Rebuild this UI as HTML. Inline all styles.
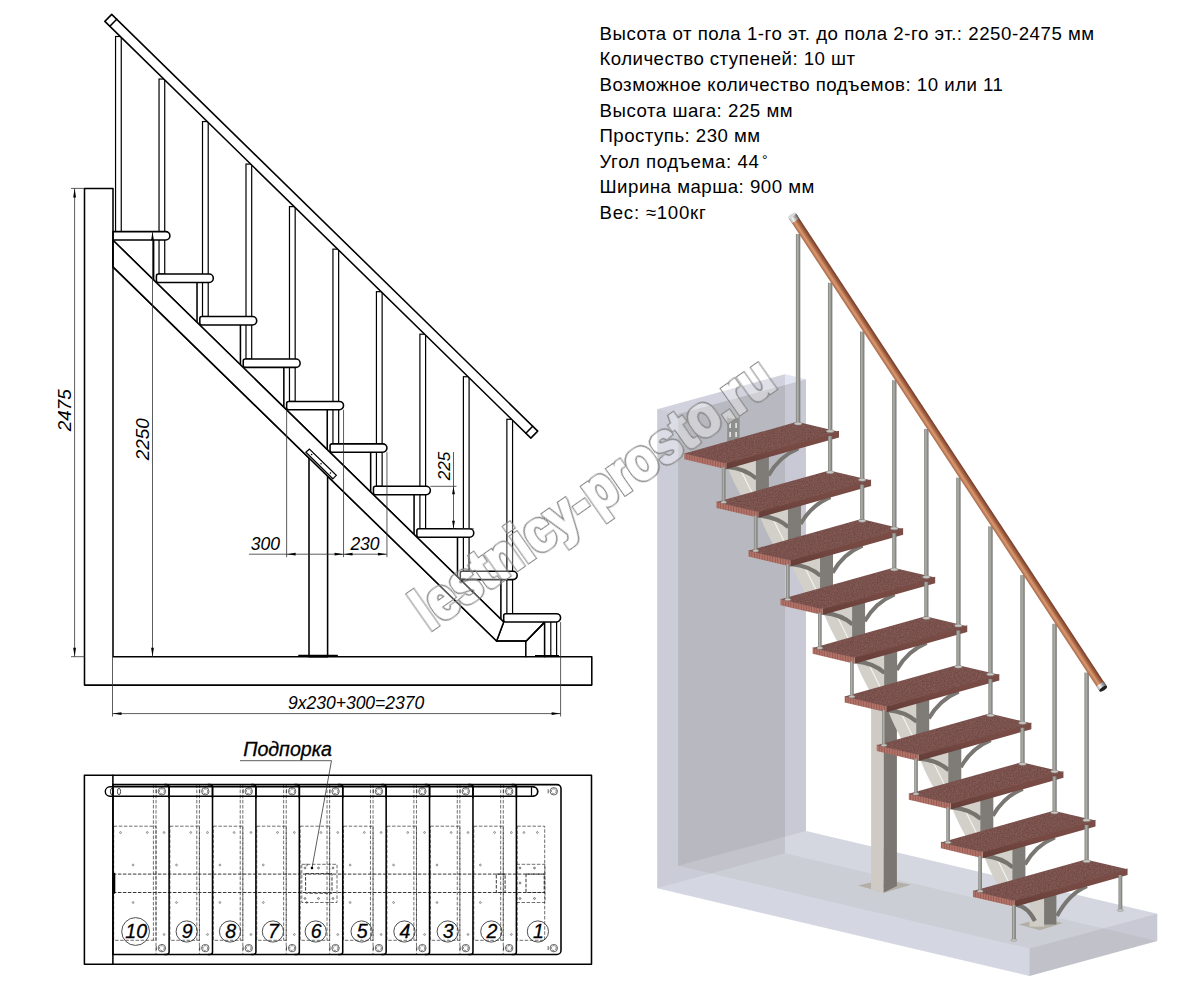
<!DOCTYPE html>
<html lang="ru"><head><meta charset="utf-8"><title>Лестница</title>
<style>
html,body{margin:0;padding:0;background:#fff;}
body{width:1191px;height:993px;overflow:hidden;}
svg{display:block;}
.k{fill:none;stroke:#000;stroke-width:1.55;stroke-linejoin:round;stroke-linecap:round;}
.kw{fill:#fff;stroke:#000;stroke-width:1.55;stroke-linejoin:round;}
.m{fill:none;stroke:#000;stroke-width:1.2;}
.mw{fill:#fff;stroke:#000;stroke-width:1.2;}
.t{fill:none;stroke:#333;stroke-width:0.8;}
.d{fill:none;stroke:#222;stroke-width:0.65;stroke-dasharray:3.5 1.6;}
.d2{fill:none;stroke:#222;stroke-width:0.9;stroke-dasharray:3.5 1.5;}
.ar{fill:#000;stroke:none;}
.dim{font-family:"Liberation Sans", sans-serif;font-style:italic;fill:#000;}
.spec{font-family:"Liberation Sans", sans-serif;fill:#000;}
</style></head><body>
<svg width="1191" height="993" viewBox="0 0 1191 993">
<g id="elev">
<rect class="mw" x="115.55" y="36.5" width="5.7" height="195.1" />
<rect class="mw" x="159.03" y="79.03" width="5.7" height="195.02" />
<rect class="mw" x="202.51" y="121.56" width="5.7" height="194.94" />
<rect class="mw" x="245.99" y="164.09" width="5.7" height="194.86" />
<rect class="mw" x="289.47" y="206.62" width="5.7" height="194.78" />
<rect class="mw" x="332.95" y="249.15" width="5.7" height="194.7" />
<rect class="mw" x="376.43" y="291.68" width="5.7" height="194.62" />
<rect class="mw" x="419.91" y="334.21" width="5.7" height="194.54" />
<rect class="mw" x="463.39" y="376.74" width="5.7" height="194.46" />
<rect class="mw" x="506.87" y="419.27" width="5.7" height="194.38" />
<line class="k" x1="153.61" y1="240" x2="153.61" y2="282.45" />
<line class="k" x1="197.02" y1="282.45" x2="197.02" y2="324.9" />
<line class="k" x1="240.43" y1="324.9" x2="240.43" y2="367.35" />
<line class="k" x1="283.84" y1="367.35" x2="283.84" y2="409.8" />
<line class="k" x1="327.25" y1="409.8" x2="327.25" y2="452.25" />
<line class="k" x1="370.66" y1="452.25" x2="370.66" y2="494.7" />
<line class="k" x1="414.07" y1="494.7" x2="414.07" y2="537.15" />
<line class="k" x1="457.48" y1="537.15" x2="457.48" y2="579.6" />
<line class="k" x1="500.89" y1="579.6" x2="500.89" y2="622.05" />
<polygon class="kw" points="113,240.3 503.69,622.05 496.6,641 113,266.9" />
<polyline class="k" points="496.6,641 526.3,641 544,622.9" />
<line class="k" x1="525.8" y1="641" x2="525.8" y2="656.7" />
<rect class="kw" x="309" y="455" width="18.6" height="201.7" />
<polygon class="kw" points="113,240.3 503.69,622.05 496.6,641 113,266.9" />
<polyline class="k" points="496.6,641 526.3,641 544,622.9" />
<line class="k" x1="298.9" y1="655.6" x2="337.2" y2="655.6" />
<polygon class="mw" points="305.9,452.3 309.4,449 336.3,475.3 332.8,478.8" />
<circle cx="311.63" cy="454.56" r="0.8" fill="#000"/>
<circle cx="321.05" cy="463.8" r="0.8" fill="#000"/>
<circle cx="330.47" cy="473.04" r="0.8" fill="#000"/>
<line class="k" x1="544.6" y1="622.05" x2="544.6" y2="656.7" />
<line class="m" x1="550.8" y1="622.05" x2="550.8" y2="656.7" />
<line class="m" x1="556.6" y1="622.05" x2="556.6" y2="656.7" />
<line class="m" x1="535" y1="655.6" x2="559" y2="655.6" />
<path class="kw" d="M113 231.6 H165.7 a4.2 4.2 0 0 1 0 8.4 H113 Z"/>
<path class="kw" d="M158.41 274.05 H209.11 a4.2 4.2 0 0 1 0 8.4 H158.41 a2 2 0 0 1 -2 -2 V276.05 a2 2 0 0 1 2 -2 Z"/>
<path class="kw" d="M201.82 316.5 H252.52 a4.2 4.2 0 0 1 0 8.4 H201.82 a2 2 0 0 1 -2 -2 V318.5 a2 2 0 0 1 2 -2 Z"/>
<path class="kw" d="M245.23 358.95 H295.93 a4.2 4.2 0 0 1 0 8.4 H245.23 a2 2 0 0 1 -2 -2 V360.95 a2 2 0 0 1 2 -2 Z"/>
<path class="kw" d="M288.64 401.4 H339.34 a4.2 4.2 0 0 1 0 8.4 H288.64 a2 2 0 0 1 -2 -2 V403.4 a2 2 0 0 1 2 -2 Z"/>
<path class="kw" d="M332.05 443.85 H382.75 a4.2 4.2 0 0 1 0 8.4 H332.05 a2 2 0 0 1 -2 -2 V445.85 a2 2 0 0 1 2 -2 Z"/>
<path class="kw" d="M375.46 486.3 H426.16 a4.2 4.2 0 0 1 0 8.4 H375.46 a2 2 0 0 1 -2 -2 V488.3 a2 2 0 0 1 2 -2 Z"/>
<path class="kw" d="M418.87 528.75 H469.57 a4.2 4.2 0 0 1 0 8.4 H418.87 a2 2 0 0 1 -2 -2 V530.75 a2 2 0 0 1 2 -2 Z"/>
<path class="kw" d="M462.28 571.2 H512.98 a4.2 4.2 0 0 1 0 8.4 H462.28 a2 2 0 0 1 -2 -2 V573.2 a2 2 0 0 1 2 -2 Z"/>
<path class="kw" d="M505.69 613.65 H556.39 a4.2 4.2 0 0 1 0 8.4 H505.69 a2 2 0 0 1 -2 -2 V615.65 a2 2 0 0 1 2 -2 Z"/>
<polyline class="k" points="113,656.7 113,188.4 84.5,188.4 84.5,685.1 591.8,685.1 591.8,656.7 113,656.7" />
<polygon class="kw" points="111.7,14.4 537.7,431.1 530.85,438.11 104.85,21.41" />
<line class="k" x1="116.7" y1="19.29" x2="109.85" y2="26.3" />
<line class="k" x1="532.7" y1="426.21" x2="525.84" y2="433.21" />
<line class="t" x1="71" y1="188.4" x2="84.5" y2="188.4" />
<line class="t" x1="71" y1="656.7" x2="84.5" y2="656.7" />
<line class="t" x1="74.6" y1="188.4" x2="74.6" y2="656.7" />
<polygon class="ar" points="74.6,188.4 76,197.4 73.2,197.4" />
<polygon class="ar" points="74.6,656.7 73.2,647.7 76,647.7" />
<text class="dim" x="71.3" y="410.3" font-size="18.8" text-anchor="middle" transform="rotate(-90 71.3 410.3)" >2475</text>
<line class="t" x1="152.5" y1="231.6" x2="152.5" y2="656.7" />
<polygon class="ar" points="152.5,231.6 153.9,240.6 151.1,240.6" />
<polygon class="ar" points="152.5,656.7 151.1,647.7 153.9,647.7" />
<text class="dim" x="149.2" y="439.3" font-size="18.8" text-anchor="middle" transform="rotate(-90 149.2 439.3)" >2250</text>
<line class="t" x1="430.36" y1="486.3" x2="456.5" y2="486.3" />
<line class="t" x1="473.77" y1="528.75" x2="456.5" y2="528.75" />
<line class="t" x1="453.5" y1="452" x2="453.5" y2="528.75" />
<polygon class="ar" points="453.5,486.3 454.9,494.3 452.1,494.3" />
<polygon class="ar" points="453.5,528.75 452.1,520.75 454.9,520.75" />
<text class="dim" x="450.3" y="466" font-size="17" text-anchor="middle" transform="rotate(-90 450.3 466)" >225</text>
<line class="t" x1="286.64" y1="409.8" x2="286.64" y2="557.2" />
<line class="t" x1="343.54" y1="409.8" x2="343.54" y2="557.2" />
<line class="t" x1="386.95" y1="452.25" x2="386.95" y2="557.2" />
<line class="t" x1="249" y1="554.2" x2="386.95" y2="554.2" />
<polygon class="ar" points="286.64,554.2 295.64,552.8 295.64,555.6" />
<polygon class="ar" points="343.54,554.2 334.54,555.6 334.54,552.8" />
<polygon class="ar" points="343.54,554.2 352.54,552.8 352.54,555.6" />
<polygon class="ar" points="386.95,554.2 377.95,555.6 377.95,552.8" />
<text class="dim" x="250.8" y="550.4" font-size="17.5" text-anchor="start" >300</text>
<text class="dim" x="350.4" y="550.4" font-size="17.5" text-anchor="start" >230</text>
<line class="t" x1="112.5" y1="656.7" x2="112.5" y2="716.5" />
<line class="t" x1="560.6" y1="622.05" x2="560.6" y2="716.5" />
<line class="t" x1="112.5" y1="713.6" x2="560.6" y2="713.6" />
<polygon class="ar" points="112.5,713.6 121.5,712.2 121.5,715" />
<polygon class="ar" points="560.6,713.6 551.6,715 551.6,712.2" />
<text class="dim" x="288" y="709" font-size="17.5" text-anchor="start" >9x230+300=2370</text>
</g>
<g id="plan">
<line class="d2" x1="112.9" y1="874.1" x2="545" y2="874.1" />
<line class="d2" x1="112.9" y1="892.5" x2="545" y2="892.5" />
<line class="d" x1="153.4" y1="784.6" x2="153.4" y2="940.3" />
<line class="d" x1="156" y1="784.6" x2="156" y2="954.4" />
<rect class="d" x="113.7" y="826.2" width="42.3" height="114.1" />
<circle cx="147.3" cy="832.5" r="0.9" fill="none" stroke="#333" stroke-width="0.5"/>
<circle cx="164.1" cy="832.5" r="0.9" fill="none" stroke="#333" stroke-width="0.5"/>
<circle cx="133.1" cy="865" r="0.9" fill="none" stroke="#333" stroke-width="0.5"/>
<circle cx="133.1" cy="902.5" r="0.9" fill="none" stroke="#333" stroke-width="0.5"/>
<circle cx="164.1" cy="934.5" r="0.9" fill="none" stroke="#333" stroke-width="0.5"/>
<circle cx="120.5" cy="832.5" r="0.9" fill="none" stroke="#333" stroke-width="0.5"/>
<circle cx="161.9" cy="791.3" r="3.7" fill="none" stroke="#222" stroke-width="0.7"/>
<circle cx="161.9" cy="791.3" r="2.4" fill="none" stroke="#222" stroke-width="0.6" stroke-dasharray="2 1"/>
<line class="t" x1="156.3" y1="789.3" x2="156.3" y2="793.3" />
<circle cx="161.9" cy="948.1" r="3.7" fill="none" stroke="#222" stroke-width="0.7"/>
<circle cx="161.9" cy="948.1" r="2.4" fill="none" stroke="#222" stroke-width="0.6" stroke-dasharray="2 1"/>
<line class="t" x1="156.3" y1="946.1" x2="156.3" y2="950.1" />
<line class="d" x1="196.81" y1="784.6" x2="196.81" y2="940.3" />
<line class="d" x1="199.41" y1="784.6" x2="199.41" y2="954.4" />
<rect class="d" x="169.9" y="826.2" width="29.51" height="114.1" />
<circle cx="190.71" cy="832.5" r="0.9" fill="none" stroke="#333" stroke-width="0.5"/>
<circle cx="207.51" cy="832.5" r="0.9" fill="none" stroke="#333" stroke-width="0.5"/>
<circle cx="176.51" cy="865" r="0.9" fill="none" stroke="#333" stroke-width="0.5"/>
<circle cx="176.51" cy="902.5" r="0.9" fill="none" stroke="#333" stroke-width="0.5"/>
<circle cx="207.51" cy="934.5" r="0.9" fill="none" stroke="#333" stroke-width="0.5"/>
<circle cx="205.31" cy="791.3" r="3.7" fill="none" stroke="#222" stroke-width="0.7"/>
<circle cx="205.31" cy="791.3" r="2.4" fill="none" stroke="#222" stroke-width="0.6" stroke-dasharray="2 1"/>
<line class="t" x1="199.71" y1="789.3" x2="199.71" y2="793.3" />
<circle cx="205.31" cy="948.1" r="3.7" fill="none" stroke="#222" stroke-width="0.7"/>
<circle cx="205.31" cy="948.1" r="2.4" fill="none" stroke="#222" stroke-width="0.6" stroke-dasharray="2 1"/>
<line class="t" x1="199.71" y1="946.1" x2="199.71" y2="950.1" />
<line class="d" x1="240.22" y1="784.6" x2="240.22" y2="940.3" />
<line class="d" x1="242.82" y1="784.6" x2="242.82" y2="954.4" />
<rect class="d" x="213.31" y="826.2" width="29.51" height="114.1" />
<circle cx="234.12" cy="832.5" r="0.9" fill="none" stroke="#333" stroke-width="0.5"/>
<circle cx="250.92" cy="832.5" r="0.9" fill="none" stroke="#333" stroke-width="0.5"/>
<circle cx="219.92" cy="865" r="0.9" fill="none" stroke="#333" stroke-width="0.5"/>
<circle cx="219.92" cy="902.5" r="0.9" fill="none" stroke="#333" stroke-width="0.5"/>
<circle cx="250.92" cy="934.5" r="0.9" fill="none" stroke="#333" stroke-width="0.5"/>
<circle cx="248.72" cy="791.3" r="3.7" fill="none" stroke="#222" stroke-width="0.7"/>
<circle cx="248.72" cy="791.3" r="2.4" fill="none" stroke="#222" stroke-width="0.6" stroke-dasharray="2 1"/>
<line class="t" x1="243.12" y1="789.3" x2="243.12" y2="793.3" />
<circle cx="248.72" cy="948.1" r="3.7" fill="none" stroke="#222" stroke-width="0.7"/>
<circle cx="248.72" cy="948.1" r="2.4" fill="none" stroke="#222" stroke-width="0.6" stroke-dasharray="2 1"/>
<line class="t" x1="243.12" y1="946.1" x2="243.12" y2="950.1" />
<line class="d" x1="283.63" y1="784.6" x2="283.63" y2="940.3" />
<line class="d" x1="286.23" y1="784.6" x2="286.23" y2="954.4" />
<rect class="d" x="256.72" y="826.2" width="29.51" height="114.1" />
<circle cx="277.53" cy="832.5" r="0.9" fill="none" stroke="#333" stroke-width="0.5"/>
<circle cx="294.33" cy="832.5" r="0.9" fill="none" stroke="#333" stroke-width="0.5"/>
<circle cx="263.33" cy="865" r="0.9" fill="none" stroke="#333" stroke-width="0.5"/>
<circle cx="263.33" cy="902.5" r="0.9" fill="none" stroke="#333" stroke-width="0.5"/>
<circle cx="294.33" cy="934.5" r="0.9" fill="none" stroke="#333" stroke-width="0.5"/>
<circle cx="292.13" cy="791.3" r="3.7" fill="none" stroke="#222" stroke-width="0.7"/>
<circle cx="292.13" cy="791.3" r="2.4" fill="none" stroke="#222" stroke-width="0.6" stroke-dasharray="2 1"/>
<line class="t" x1="286.53" y1="789.3" x2="286.53" y2="793.3" />
<circle cx="292.13" cy="948.1" r="3.7" fill="none" stroke="#222" stroke-width="0.7"/>
<circle cx="292.13" cy="948.1" r="2.4" fill="none" stroke="#222" stroke-width="0.6" stroke-dasharray="2 1"/>
<line class="t" x1="286.53" y1="946.1" x2="286.53" y2="950.1" />
<line class="d" x1="327.04" y1="784.6" x2="327.04" y2="940.3" />
<line class="d" x1="329.64" y1="784.6" x2="329.64" y2="954.4" />
<rect class="d" x="300.13" y="826.2" width="29.51" height="114.1" />
<circle cx="320.94" cy="832.5" r="0.9" fill="none" stroke="#333" stroke-width="0.5"/>
<circle cx="337.74" cy="832.5" r="0.9" fill="none" stroke="#333" stroke-width="0.5"/>
<circle cx="306.74" cy="865" r="0.9" fill="none" stroke="#333" stroke-width="0.5"/>
<circle cx="306.74" cy="902.5" r="0.9" fill="none" stroke="#333" stroke-width="0.5"/>
<circle cx="337.74" cy="934.5" r="0.9" fill="none" stroke="#333" stroke-width="0.5"/>
<circle cx="335.54" cy="791.3" r="3.7" fill="none" stroke="#222" stroke-width="0.7"/>
<circle cx="335.54" cy="791.3" r="2.4" fill="none" stroke="#222" stroke-width="0.6" stroke-dasharray="2 1"/>
<line class="t" x1="329.94" y1="789.3" x2="329.94" y2="793.3" />
<circle cx="335.54" cy="948.1" r="3.7" fill="none" stroke="#222" stroke-width="0.7"/>
<circle cx="335.54" cy="948.1" r="2.4" fill="none" stroke="#222" stroke-width="0.6" stroke-dasharray="2 1"/>
<line class="t" x1="329.94" y1="946.1" x2="329.94" y2="950.1" />
<line class="d" x1="370.45" y1="784.6" x2="370.45" y2="940.3" />
<line class="d" x1="373.05" y1="784.6" x2="373.05" y2="954.4" />
<rect class="d" x="343.54" y="826.2" width="29.51" height="114.1" />
<circle cx="364.35" cy="832.5" r="0.9" fill="none" stroke="#333" stroke-width="0.5"/>
<circle cx="381.15" cy="832.5" r="0.9" fill="none" stroke="#333" stroke-width="0.5"/>
<circle cx="350.15" cy="865" r="0.9" fill="none" stroke="#333" stroke-width="0.5"/>
<circle cx="350.15" cy="902.5" r="0.9" fill="none" stroke="#333" stroke-width="0.5"/>
<circle cx="381.15" cy="934.5" r="0.9" fill="none" stroke="#333" stroke-width="0.5"/>
<circle cx="378.95" cy="791.3" r="3.7" fill="none" stroke="#222" stroke-width="0.7"/>
<circle cx="378.95" cy="791.3" r="2.4" fill="none" stroke="#222" stroke-width="0.6" stroke-dasharray="2 1"/>
<line class="t" x1="373.35" y1="789.3" x2="373.35" y2="793.3" />
<circle cx="378.95" cy="948.1" r="3.7" fill="none" stroke="#222" stroke-width="0.7"/>
<circle cx="378.95" cy="948.1" r="2.4" fill="none" stroke="#222" stroke-width="0.6" stroke-dasharray="2 1"/>
<line class="t" x1="373.35" y1="946.1" x2="373.35" y2="950.1" />
<line class="d" x1="413.86" y1="784.6" x2="413.86" y2="940.3" />
<line class="d" x1="416.46" y1="784.6" x2="416.46" y2="954.4" />
<rect class="d" x="386.95" y="826.2" width="29.51" height="114.1" />
<circle cx="407.76" cy="832.5" r="0.9" fill="none" stroke="#333" stroke-width="0.5"/>
<circle cx="424.56" cy="832.5" r="0.9" fill="none" stroke="#333" stroke-width="0.5"/>
<circle cx="393.56" cy="865" r="0.9" fill="none" stroke="#333" stroke-width="0.5"/>
<circle cx="393.56" cy="902.5" r="0.9" fill="none" stroke="#333" stroke-width="0.5"/>
<circle cx="424.56" cy="934.5" r="0.9" fill="none" stroke="#333" stroke-width="0.5"/>
<circle cx="422.36" cy="791.3" r="3.7" fill="none" stroke="#222" stroke-width="0.7"/>
<circle cx="422.36" cy="791.3" r="2.4" fill="none" stroke="#222" stroke-width="0.6" stroke-dasharray="2 1"/>
<line class="t" x1="416.76" y1="789.3" x2="416.76" y2="793.3" />
<circle cx="422.36" cy="948.1" r="3.7" fill="none" stroke="#222" stroke-width="0.7"/>
<circle cx="422.36" cy="948.1" r="2.4" fill="none" stroke="#222" stroke-width="0.6" stroke-dasharray="2 1"/>
<line class="t" x1="416.76" y1="946.1" x2="416.76" y2="950.1" />
<line class="d" x1="457.27" y1="784.6" x2="457.27" y2="940.3" />
<line class="d" x1="459.87" y1="784.6" x2="459.87" y2="954.4" />
<rect class="d" x="430.36" y="826.2" width="29.51" height="114.1" />
<circle cx="451.17" cy="832.5" r="0.9" fill="none" stroke="#333" stroke-width="0.5"/>
<circle cx="467.97" cy="832.5" r="0.9" fill="none" stroke="#333" stroke-width="0.5"/>
<circle cx="436.97" cy="865" r="0.9" fill="none" stroke="#333" stroke-width="0.5"/>
<circle cx="436.97" cy="902.5" r="0.9" fill="none" stroke="#333" stroke-width="0.5"/>
<circle cx="467.97" cy="934.5" r="0.9" fill="none" stroke="#333" stroke-width="0.5"/>
<circle cx="465.77" cy="791.3" r="3.7" fill="none" stroke="#222" stroke-width="0.7"/>
<circle cx="465.77" cy="791.3" r="2.4" fill="none" stroke="#222" stroke-width="0.6" stroke-dasharray="2 1"/>
<line class="t" x1="460.17" y1="789.3" x2="460.17" y2="793.3" />
<circle cx="465.77" cy="948.1" r="3.7" fill="none" stroke="#222" stroke-width="0.7"/>
<circle cx="465.77" cy="948.1" r="2.4" fill="none" stroke="#222" stroke-width="0.6" stroke-dasharray="2 1"/>
<line class="t" x1="460.17" y1="946.1" x2="460.17" y2="950.1" />
<line class="d" x1="500.68" y1="784.6" x2="500.68" y2="940.3" />
<line class="d" x1="503.28" y1="784.6" x2="503.28" y2="954.4" />
<rect class="d" x="473.77" y="826.2" width="29.51" height="114.1" />
<circle cx="494.58" cy="832.5" r="0.9" fill="none" stroke="#333" stroke-width="0.5"/>
<circle cx="511.38" cy="832.5" r="0.9" fill="none" stroke="#333" stroke-width="0.5"/>
<circle cx="480.38" cy="865" r="0.9" fill="none" stroke="#333" stroke-width="0.5"/>
<circle cx="480.38" cy="902.5" r="0.9" fill="none" stroke="#333" stroke-width="0.5"/>
<circle cx="511.38" cy="934.5" r="0.9" fill="none" stroke="#333" stroke-width="0.5"/>
<circle cx="509.18" cy="791.3" r="3.7" fill="none" stroke="#222" stroke-width="0.7"/>
<circle cx="509.18" cy="791.3" r="2.4" fill="none" stroke="#222" stroke-width="0.6" stroke-dasharray="2 1"/>
<line class="t" x1="503.58" y1="789.3" x2="503.58" y2="793.3" />
<circle cx="509.18" cy="948.1" r="3.7" fill="none" stroke="#222" stroke-width="0.7"/>
<circle cx="509.18" cy="948.1" r="2.4" fill="none" stroke="#222" stroke-width="0.6" stroke-dasharray="2 1"/>
<line class="t" x1="503.58" y1="946.1" x2="503.58" y2="950.1" />
<rect class="d" x="517.18" y="826.2" width="27.5" height="114.1" />
<circle cx="523.88" cy="832.5" r="0.9" fill="none" stroke="#333" stroke-width="0.5"/>
<circle cx="537.38" cy="832.5" r="0.9" fill="none" stroke="#333" stroke-width="0.5"/>
<circle cx="553.8" cy="791.3" r="3.7" fill="none" stroke="#222" stroke-width="0.7"/>
<circle cx="553.8" cy="791.3" r="2.4" fill="none" stroke="#222" stroke-width="0.6" stroke-dasharray="2 1"/>
<line class="t" x1="548.2" y1="789.3" x2="548.2" y2="793.3" />
<circle cx="553.8" cy="948.1" r="3.7" fill="none" stroke="#222" stroke-width="0.7"/>
<circle cx="553.8" cy="948.1" r="2.4" fill="none" stroke="#222" stroke-width="0.6" stroke-dasharray="2 1"/>
<line class="t" x1="548.2" y1="946.1" x2="548.2" y2="950.1" />
<rect class="d" x="301.8" y="864.3" width="35.2" height="38.2" />
<rect class="d2" x="305.6" y="873.6" width="26.4" height="19.6" />
<rect class="d" x="516.5" y="864.3" width="28.5" height="38.2" />
<rect class="d2" x="526" y="874.1" width="18.2" height="18.4" />
<rect class="d2" x="496.3" y="874.1" width="8.8" height="18.4" />
<circle cx="305" cy="868" r="0.9" fill="none" stroke="#222" stroke-width="0.6"/>
<circle cx="312" cy="868" r="0.9" fill="none" stroke="#222" stroke-width="0.6"/>
<circle cx="318.5" cy="868" r="0.9" fill="none" stroke="#222" stroke-width="0.6"/>
<circle cx="305" cy="898.5" r="0.9" fill="none" stroke="#222" stroke-width="0.6"/>
<circle cx="318.5" cy="898.5" r="0.9" fill="none" stroke="#222" stroke-width="0.6"/>
<circle cx="333" cy="868" r="0.9" fill="none" stroke="#222" stroke-width="0.6"/>
<circle cx="333" cy="898.5" r="0.9" fill="none" stroke="#222" stroke-width="0.6"/>
<circle cx="520" cy="868" r="0.9" fill="none" stroke="#222" stroke-width="0.6"/>
<circle cx="534.5" cy="868" r="0.9" fill="none" stroke="#222" stroke-width="0.6"/>
<circle cx="520" cy="883" r="0.9" fill="none" stroke="#222" stroke-width="0.6"/>
<circle cx="520" cy="898.5" r="0.9" fill="none" stroke="#222" stroke-width="0.6"/>
<circle cx="534.5" cy="898.5" r="0.9" fill="none" stroke="#222" stroke-width="0.6"/>
<rect class="k" x="84.4" y="775.3" width="507.1" height="189" />
<line class="k" x1="112.9" y1="775.3" x2="112.9" y2="964.3" />
<path class="k" d="M112.9 784.6 H557 a4 4 0 0 1 4 4 V950.4 a4 4 0 0 1 -4 4 H112.9"/>
<path class="k" d="M164.6 784.6 h2 a2.5 2.5 0 0 1 2.5 2.5 V951.9 a2.5 2.5 0 0 1 -2.5 2.5 h-2"/>
<path class="k" d="M208.01 784.6 h2 a2.5 2.5 0 0 1 2.5 2.5 V951.9 a2.5 2.5 0 0 1 -2.5 2.5 h-2"/>
<path class="k" d="M251.42 784.6 h2 a2.5 2.5 0 0 1 2.5 2.5 V951.9 a2.5 2.5 0 0 1 -2.5 2.5 h-2"/>
<path class="k" d="M294.83 784.6 h2 a2.5 2.5 0 0 1 2.5 2.5 V951.9 a2.5 2.5 0 0 1 -2.5 2.5 h-2"/>
<path class="k" d="M338.24 784.6 h2 a2.5 2.5 0 0 1 2.5 2.5 V951.9 a2.5 2.5 0 0 1 -2.5 2.5 h-2"/>
<path class="k" d="M381.65 784.6 h2 a2.5 2.5 0 0 1 2.5 2.5 V951.9 a2.5 2.5 0 0 1 -2.5 2.5 h-2"/>
<path class="k" d="M425.06 784.6 h2 a2.5 2.5 0 0 1 2.5 2.5 V951.9 a2.5 2.5 0 0 1 -2.5 2.5 h-2"/>
<path class="k" d="M468.47 784.6 h2 a2.5 2.5 0 0 1 2.5 2.5 V951.9 a2.5 2.5 0 0 1 -2.5 2.5 h-2"/>
<path class="k" d="M511.88 784.6 h2 a2.5 2.5 0 0 1 2.5 2.5 V951.9 a2.5 2.5 0 0 1 -2.5 2.5 h-2"/>
<path class="m" style="stroke-width:1.4" d="M110 786.8 H533.2 a4.7 4.7 0 0 1 0 9.4 H110 a4.7 4.7 0 0 1 0 -9.4 Z"/>
<line class="m" x1="531.5" y1="787.2" x2="531.5" y2="795.8" />
<path class="m" d="M533 787 a4.4 4.4 0 0 1 0 9"/>
<ellipse class="m" cx="112" cy="791.5" rx="1.6" ry="3.2" style="stroke-width:0.8"/>
<ellipse class="m" cx="119" cy="791.5" rx="1.6" ry="3.2" style="stroke-width:0.7"/>
<line class="k" x1="113" y1="784.6" x2="113" y2="954.4" />
<line class="k" x1="114" y1="874.1" x2="114" y2="892.5" style="stroke-width:2.6"/>
<line class="k" x1="169.1" y1="787.1" x2="169.1" y2="797.6" />
<line class="k" x1="212.51" y1="787.1" x2="212.51" y2="797.6" />
<line class="k" x1="255.92" y1="787.1" x2="255.92" y2="797.6" />
<line class="k" x1="299.33" y1="787.1" x2="299.33" y2="797.6" />
<line class="k" x1="342.74" y1="787.1" x2="342.74" y2="797.6" />
<line class="k" x1="386.15" y1="787.1" x2="386.15" y2="797.6" />
<line class="k" x1="429.56" y1="787.1" x2="429.56" y2="797.6" />
<line class="k" x1="472.97" y1="787.1" x2="472.97" y2="797.6" />
<line class="k" x1="516.38" y1="787.1" x2="516.38" y2="797.6" />
<circle cx="135.6" cy="931.5" r="13.9" fill="none" stroke="#222" stroke-width="0.8"/>
<text class="dim" x="136.2" y="938.4" font-size="19.6" text-anchor="middle" stroke="#000" stroke-width="0.3">10</text>
<circle cx="186.7" cy="931.5" r="10.6" fill="none" stroke="#222" stroke-width="0.8"/>
<text class="dim" x="187.3" y="938.4" font-size="19.6" text-anchor="middle" stroke="#000" stroke-width="0.3">9</text>
<circle cx="230" cy="931.5" r="10.6" fill="none" stroke="#222" stroke-width="0.8"/>
<text class="dim" x="230.6" y="938.4" font-size="19.6" text-anchor="middle" stroke="#000" stroke-width="0.3">8</text>
<circle cx="272.9" cy="931.5" r="10.6" fill="none" stroke="#222" stroke-width="0.8"/>
<text class="dim" x="273.5" y="938.4" font-size="19.6" text-anchor="middle" stroke="#000" stroke-width="0.3">7</text>
<circle cx="315.7" cy="931.5" r="10.6" fill="none" stroke="#222" stroke-width="0.8"/>
<text class="dim" x="316.3" y="938.4" font-size="19.6" text-anchor="middle" stroke="#000" stroke-width="0.3">6</text>
<circle cx="361.6" cy="931.5" r="10.6" fill="none" stroke="#222" stroke-width="0.8"/>
<text class="dim" x="362.2" y="938.4" font-size="19.6" text-anchor="middle" stroke="#000" stroke-width="0.3">5</text>
<circle cx="404.4" cy="931.5" r="10.6" fill="none" stroke="#222" stroke-width="0.8"/>
<text class="dim" x="405" y="938.4" font-size="19.6" text-anchor="middle" stroke="#000" stroke-width="0.3">4</text>
<circle cx="447.7" cy="931.5" r="10.6" fill="none" stroke="#222" stroke-width="0.8"/>
<text class="dim" x="448.3" y="938.4" font-size="19.6" text-anchor="middle" stroke="#000" stroke-width="0.3">3</text>
<circle cx="491.3" cy="931.5" r="10.6" fill="none" stroke="#222" stroke-width="0.8"/>
<text class="dim" x="491.9" y="938.4" font-size="19.6" text-anchor="middle" stroke="#000" stroke-width="0.3">2</text>
<circle cx="537.9" cy="931.5" r="10.6" fill="none" stroke="#222" stroke-width="0.8"/>
<text class="dim" x="538.5" y="938.4" font-size="19.6" text-anchor="middle" stroke="#000" stroke-width="0.3">1</text>
<text class="dim" x="243.2" y="756" font-size="19.6" text-anchor="start" stroke="#000" stroke-width="0.3">Подпорка</text>
<polyline class="t" points="240,760.7 331.5,760.7 312,868" />
<circle cx="312" cy="868" r="1.2" fill="#000"/>
</g>
<defs>
<linearGradient id="gMetal" x1="0" x2="1" y1="0" y2="0"><stop offset="0" stop-color="#7e7e7a"/><stop offset="0.4" stop-color="#b2b2ad"/><stop offset="1" stop-color="#6e6e6a"/></linearGradient>
<linearGradient id="gRail" gradientUnits="userSpaceOnUse" x1="-4.4" y1="0" x2="4.4" y2="0"><stop offset="0" stop-color="#a86848"/><stop offset="0.35" stop-color="#d99a72"/><stop offset="0.6" stop-color="#b06a48"/><stop offset="1" stop-color="#6e3a28"/></linearGradient>
<linearGradient id="gCap" gradientUnits="userSpaceOnUse" x1="-4.4" y1="0" x2="4.4" y2="0"><stop offset="0" stop-color="#b0b0b0"/><stop offset="0.35" stop-color="#f4f4f4"/><stop offset="1" stop-color="#5a5a5a"/></linearGradient>
<filter id="fTop" x="0" y="0" width="100%" height="100%" color-interpolation-filters="sRGB"><feTurbulence type="fractalNoise" baseFrequency="0.75" numOctaves="2" seed="4" result="n"/><feColorMatrix in="n" type="matrix" values="0.19 0 0 0 0.385  0.15 0 0 0 0.245  0.14 0 0 0 0.232  0 0 0 0 1" result="c"/><feComposite in="c" in2="SourceGraphic" operator="in"/></filter>
<pattern id="pEnd" width="2.6" height="6" patternUnits="userSpaceOnUse"><rect width="2.6" height="6" fill="#b0746a"/><rect x="0" y="0" width="0.9" height="6" fill="#9a5a50"/></pattern>
<linearGradient id="gNose" x1="0" x2="0" y1="0" y2="1"><stop offset="0" stop-color="#7c4e47"/><stop offset="0.55" stop-color="#754842"/><stop offset="1" stop-color="#643c36"/></linearGradient>
</defs>
<g id="view3d">
<polygon points="785.03,853.37 785.03,374.31 805.94,379.24 805.94,830.93 1157.23,913.73 1157.23,941.11" fill="rgba(160,170,212,0.20)" />
<polygon points="657.23,888.26 785.03,853.37 785.03,374.31 657.23,409.19" fill="rgba(120,120,134,0.31)" />
<polygon points="657.23,888.26 1029.42,975.99 1157.23,941.11 785.03,853.37" fill="rgba(140,142,160,0.25)" />
<polygon points="678.13,865.81 805.94,830.93 805.94,379.24 678.13,414.12" fill="rgba(120,120,134,0.31)" />
<polygon points="678.13,865.81 1029.42,948.62 1157.23,913.73 805.94,830.93" fill="rgba(140,142,160,0.25)" />
<polygon points="657.23,409.19 678.13,414.12 805.94,379.24 785.03,374.31" fill="rgba(200,205,230,0.25)" />
<polygon points="1029.42,975.99 1157.23,941.11 1157.23,913.73 1029.42,948.62" fill="rgba(120,120,134,0.31)" />
<polygon points="657.23,888.26 657.23,409.19 678.13,414.12 678.13,865.81 1029.42,948.62 1029.42,975.99" fill="rgba(160,170,212,0.20)" />
<rect x="727.2" y="416" width="12.4" height="26" fill="#8f8f8d"/>
<ellipse cx="733.4" cy="416" rx="6.2" ry="2.8" fill="#b9b9b7"/>
<rect x="729.3" y="423" width="1.6" height="5" fill="#e8e8ee"/><rect x="735.3" y="423" width="1.6" height="5" fill="#e8e8ee"/>
<rect x="729.3" y="432" width="1.6" height="5" fill="#e8e8ee"/><rect x="735.3" y="432" width="1.6" height="5" fill="#e8e8ee"/>
<path d="M727.4 466.48 C731.4 477.48 736.4 487.48 744.4 501.48 L756.4 501.48 L756.4 459.48 Z" fill="#d2d0c9"/>
<path d="M739.4 467.48 C744.4 477.48 748.4 485.48 753.4 495.48" fill="none" stroke="#f2f1ec" stroke-width="1.2"/>
<path d="M727.4 466.98 C739.4 467.98 748.4 471.48 756.4 478.48" fill="none" stroke="#777470" stroke-width="4.2"/>
<path d="M768.4 475.48 C776.4 461.48 786.4 453.48 798.4 448.48" fill="none" stroke="#7a7773" stroke-width="4"/>
<rect x="755.9" y="451.48" width="13" height="52" fill="#7f7c78"/>
<polygon points="726.22,462.53 838.99,430.85 838.99,437.49 726.22,469.17" fill="url(#gNose)" />
<polygon points="684.4,452.88 726.22,462.73 726.22,469.17 684.4,459.32" fill="url(#pEnd)" />
<path d="M684.4 453.48 L723.22 462.63 Q726.22 463.33 729.22 462.53 L838.99 431.65 L797.17 421.8 Z" fill="#7d4e47" filter="url(#fTop)"/>
<path d="M759.46 515.1 C763.46 526.1 768.46 536.1 776.46 550.1 L788.46 550.1 L788.46 508.1 Z" fill="#d2d0c9"/>
<path d="M771.46 516.1 C776.46 526.1 780.46 534.1 785.46 544.1" fill="none" stroke="#f2f1ec" stroke-width="1.2"/>
<path d="M759.46 515.6 C771.46 516.6 780.46 520.1 788.46 527.1" fill="none" stroke="#777470" stroke-width="4.2"/>
<path d="M800.46 524.1 C808.46 510.1 818.46 502.1 830.46 497.1" fill="none" stroke="#7a7773" stroke-width="4"/>
<rect x="787.96" y="500.1" width="13" height="52" fill="#7f7c78"/>
<rect x="828.04" y="436.03" width="4.2" height="36.22" fill="url(#gMetal)"/>
<polygon points="758.28,511.15 871.05,479.47 871.05,486.11 758.28,517.79" fill="url(#gNose)" />
<polygon points="716.46,501.5 758.28,511.35 758.28,517.79 716.46,507.94" fill="url(#pEnd)" />
<path d="M716.46 502.1 L755.28 511.25 Q758.28 511.95 761.28 511.15 L871.05 480.27 L829.23 470.42 Z" fill="#7d4e47" filter="url(#fTop)"/>
<ellipse cx="830.14" cy="472.25" rx="3.8" ry="1.4" fill="#c8c8c4" stroke="#8a8a86" stroke-width="0.5"/>
<rect x="721.84" y="466.95" width="3.6" height="35.22" fill="url(#gMetal)"/>
<ellipse cx="723.64" cy="502.17" rx="3" ry="1.2" fill="#c8c8c4" stroke="#8a8a86" stroke-width="0.5"/>
<path d="M791.52 563.72 C795.52 574.72 800.52 584.72 808.52 598.72 L820.52 598.72 L820.52 556.72 Z" fill="#d2d0c9"/>
<path d="M803.52 564.72 C808.52 574.72 812.52 582.72 817.52 592.72" fill="none" stroke="#f2f1ec" stroke-width="1.2"/>
<path d="M791.52 564.22 C803.52 565.22 812.52 568.72 820.52 575.72" fill="none" stroke="#777470" stroke-width="4.2"/>
<path d="M832.52 572.72 C840.52 558.72 850.52 550.72 862.52 545.72" fill="none" stroke="#7a7773" stroke-width="4"/>
<rect x="820.02" y="548.72" width="13" height="52" fill="#7f7c78"/>
<rect x="860.1" y="484.65" width="4.2" height="36.22" fill="url(#gMetal)"/>
<polygon points="790.34,559.77 903.11,528.09 903.11,534.73 790.34,566.41" fill="url(#gNose)" />
<polygon points="748.52,550.12 790.34,559.97 790.34,566.41 748.52,556.56" fill="url(#pEnd)" />
<path d="M748.52 550.72 L787.34 559.87 Q790.34 560.57 793.34 559.77 L903.11 528.89 L861.29 519.04 Z" fill="#7d4e47" filter="url(#fTop)"/>
<ellipse cx="862.2" cy="520.87" rx="3.8" ry="1.4" fill="#c8c8c4" stroke="#8a8a86" stroke-width="0.5"/>
<rect x="753.9" y="515.57" width="3.6" height="35.22" fill="url(#gMetal)"/>
<ellipse cx="755.7" cy="550.79" rx="3" ry="1.2" fill="#c8c8c4" stroke="#8a8a86" stroke-width="0.5"/>
<path d="M823.59 612.34 C827.59 623.34 832.59 633.34 840.59 647.34 L852.59 647.34 L852.59 605.34 Z" fill="#d2d0c9"/>
<path d="M835.59 613.34 C840.59 623.34 844.59 631.34 849.59 641.34" fill="none" stroke="#f2f1ec" stroke-width="1.2"/>
<path d="M823.59 612.84 C835.59 613.84 844.59 617.34 852.59 624.34" fill="none" stroke="#777470" stroke-width="4.2"/>
<path d="M864.59 621.34 C872.59 607.34 882.59 599.34 894.59 594.34" fill="none" stroke="#7a7773" stroke-width="4"/>
<rect x="852.09" y="597.34" width="13" height="52" fill="#7f7c78"/>
<rect x="892.17" y="533.27" width="4.2" height="36.22" fill="url(#gMetal)"/>
<polygon points="822.41,608.39 935.18,576.71 935.18,583.35 822.41,615.03" fill="url(#gNose)" />
<polygon points="780.59,598.74 822.41,608.59 822.41,615.03 780.59,605.18" fill="url(#pEnd)" />
<path d="M780.59 599.34 L819.41 608.49 Q822.41 609.19 825.41 608.39 L935.18 577.51 L893.36 567.66 Z" fill="#7d4e47" filter="url(#fTop)"/>
<ellipse cx="894.27" cy="569.49" rx="3.8" ry="1.4" fill="#c8c8c4" stroke="#8a8a86" stroke-width="0.5"/>
<rect x="785.96" y="564.19" width="3.6" height="35.22" fill="url(#gMetal)"/>
<ellipse cx="787.76" cy="599.41" rx="3" ry="1.2" fill="#c8c8c4" stroke="#8a8a86" stroke-width="0.5"/>
<path d="M855.65 660.96 C859.65 671.96 864.65 681.96 872.65 695.96 L884.65 695.96 L884.65 653.96 Z" fill="#d2d0c9"/>
<path d="M867.65 661.96 C872.65 671.96 876.65 679.96 881.65 689.96" fill="none" stroke="#f2f1ec" stroke-width="1.2"/>
<path d="M855.65 661.46 C867.65 662.46 876.65 665.96 884.65 672.96" fill="none" stroke="#777470" stroke-width="4.2"/>
<path d="M896.65 669.96 C904.65 655.96 914.65 647.96 926.65 642.96" fill="none" stroke="#7a7773" stroke-width="4"/>
<rect x="884.15" y="645.96" width="13" height="52" fill="#7f7c78"/>
<polygon points="857.9,885.6 884.3,892.8 910.8,884.8 884.3,879.5" fill="#b3afa6"/>
<rect x="871.1" y="700" width="12.6" height="190" fill="#cfcbc4"/>
<polygon points="871.1,885.8 883.7,889 883.7,893 871.1,889" fill="#cfcbc4"/>
<rect x="883.7" y="700" width="13.2" height="186" fill="#7b7671"/>
<polygon points="883.7,885 896.9,885 896.9,886 883.7,892.6" fill="#7b7671"/>
<rect x="924.23" y="581.89" width="4.2" height="36.22" fill="url(#gMetal)"/>
<polygon points="854.47,657.01 967.24,625.33 967.24,631.97 854.47,663.65" fill="url(#gNose)" />
<polygon points="812.65,647.36 854.47,657.21 854.47,663.65 812.65,653.8" fill="url(#pEnd)" />
<path d="M812.65 647.96 L851.47 657.11 Q854.47 657.81 857.47 657.01 L967.24 626.13 L925.42 616.28 Z" fill="#7d4e47" filter="url(#fTop)"/>
<ellipse cx="926.33" cy="618.11" rx="3.8" ry="1.4" fill="#c8c8c4" stroke="#8a8a86" stroke-width="0.5"/>
<rect x="818.02" y="612.81" width="3.6" height="35.22" fill="url(#gMetal)"/>
<ellipse cx="819.82" cy="648.03" rx="3" ry="1.2" fill="#c8c8c4" stroke="#8a8a86" stroke-width="0.5"/>
<path d="M887.71 709.58 C891.71 720.58 896.71 730.58 904.71 744.58 L916.71 744.58 L916.71 702.58 Z" fill="#d2d0c9"/>
<path d="M899.71 710.58 C904.71 720.58 908.71 728.58 913.71 738.58" fill="none" stroke="#f2f1ec" stroke-width="1.2"/>
<path d="M887.71 710.08 C899.71 711.08 908.71 714.58 916.71 721.58" fill="none" stroke="#777470" stroke-width="4.2"/>
<path d="M928.71 718.58 C936.71 704.58 946.71 696.58 958.71 691.58" fill="none" stroke="#7a7773" stroke-width="4"/>
<rect x="916.21" y="694.58" width="13" height="52" fill="#7f7c78"/>
<rect x="956.29" y="630.51" width="4.2" height="36.22" fill="url(#gMetal)"/>
<polygon points="886.53,705.63 999.3,673.95 999.3,680.59 886.53,712.27" fill="url(#gNose)" />
<polygon points="844.71,695.98 886.53,705.83 886.53,712.27 844.71,702.42" fill="url(#pEnd)" />
<path d="M844.71 696.58 L883.53 705.73 Q886.53 706.43 889.53 705.63 L999.3 674.75 L957.48 664.9 Z" fill="#7d4e47" filter="url(#fTop)"/>
<ellipse cx="958.39" cy="666.73" rx="3.8" ry="1.4" fill="#c8c8c4" stroke="#8a8a86" stroke-width="0.5"/>
<rect x="850.09" y="661.43" width="3.6" height="35.22" fill="url(#gMetal)"/>
<ellipse cx="851.89" cy="696.65" rx="3" ry="1.2" fill="#c8c8c4" stroke="#8a8a86" stroke-width="0.5"/>
<path d="M919.77 758.2 C923.77 769.2 928.77 779.2 936.77 793.2 L948.77 793.2 L948.77 751.2 Z" fill="#d2d0c9"/>
<path d="M931.77 759.2 C936.77 769.2 940.77 777.2 945.77 787.2" fill="none" stroke="#f2f1ec" stroke-width="1.2"/>
<path d="M919.77 758.7 C931.77 759.7 940.77 763.2 948.77 770.2" fill="none" stroke="#777470" stroke-width="4.2"/>
<path d="M960.77 767.2 C968.77 753.2 978.77 745.2 990.77 740.2" fill="none" stroke="#7a7773" stroke-width="4"/>
<rect x="948.27" y="743.2" width="13" height="52" fill="#7f7c78"/>
<rect x="988.35" y="679.13" width="4.2" height="36.22" fill="url(#gMetal)"/>
<polygon points="918.59,754.25 1031.36,722.57 1031.36,729.21 918.59,760.89" fill="url(#gNose)" />
<polygon points="876.77,744.6 918.59,754.45 918.59,760.89 876.77,751.04" fill="url(#pEnd)" />
<path d="M876.77 745.2 L915.59 754.35 Q918.59 755.05 921.59 754.25 L1031.36 723.37 L989.54 713.52 Z" fill="#7d4e47" filter="url(#fTop)"/>
<ellipse cx="990.45" cy="715.35" rx="3.8" ry="1.4" fill="#c8c8c4" stroke="#8a8a86" stroke-width="0.5"/>
<rect x="882.15" y="710.05" width="3.6" height="35.22" fill="url(#gMetal)"/>
<ellipse cx="883.95" cy="745.27" rx="3" ry="1.2" fill="#c8c8c4" stroke="#8a8a86" stroke-width="0.5"/>
<path d="M951.83 806.82 C955.83 817.82 960.83 827.82 968.83 841.82 L980.83 841.82 L980.83 799.82 Z" fill="#d2d0c9"/>
<path d="M963.83 807.82 C968.83 817.82 972.83 825.82 977.83 835.82" fill="none" stroke="#f2f1ec" stroke-width="1.2"/>
<path d="M951.83 807.32 C963.83 808.32 972.83 811.82 980.83 818.82" fill="none" stroke="#777470" stroke-width="4.2"/>
<path d="M992.83 815.82 C1000.83 801.82 1010.83 793.82 1022.83 788.82" fill="none" stroke="#7a7773" stroke-width="4"/>
<rect x="980.33" y="791.82" width="13" height="52" fill="#7f7c78"/>
<rect x="1020.41" y="727.75" width="4.2" height="36.22" fill="url(#gMetal)"/>
<polygon points="950.65,802.88 1063.42,771.2 1063.42,777.84 950.65,809.52" fill="url(#gNose)" />
<polygon points="908.83,793.22 950.65,803.08 950.65,809.52 908.83,799.66" fill="url(#pEnd)" />
<path d="M908.83 793.82 L947.65 802.98 Q950.65 803.68 953.65 802.88 L1063.42 772 L1021.6 762.14 Z" fill="#7d4e47" filter="url(#fTop)"/>
<ellipse cx="1022.51" cy="763.97" rx="3.8" ry="1.4" fill="#c8c8c4" stroke="#8a8a86" stroke-width="0.5"/>
<rect x="914.21" y="758.67" width="3.6" height="35.22" fill="url(#gMetal)"/>
<ellipse cx="916.01" cy="793.89" rx="3" ry="1.2" fill="#c8c8c4" stroke="#8a8a86" stroke-width="0.5"/>
<path d="M983.9 855.44 C987.9 866.44 992.9 876.44 1000.9 890.44 L1012.9 890.44 L1012.9 848.44 Z" fill="#d2d0c9"/>
<path d="M995.9 856.44 C1000.9 866.44 1004.9 874.44 1009.9 884.44" fill="none" stroke="#f2f1ec" stroke-width="1.2"/>
<path d="M983.9 855.94 C995.9 856.94 1004.9 860.44 1012.9 867.44" fill="none" stroke="#777470" stroke-width="4.2"/>
<path d="M1024.9 864.44 C1032.9 850.44 1042.9 842.44 1054.9 837.44" fill="none" stroke="#7a7773" stroke-width="4"/>
<rect x="1012.4" y="840.44" width="13" height="52" fill="#7f7c78"/>
<rect x="1052.48" y="776.37" width="4.2" height="36.22" fill="url(#gMetal)"/>
<polygon points="982.72,851.5 1095.49,819.82 1095.49,826.46 982.72,858.14" fill="url(#gNose)" />
<polygon points="940.9,841.84 982.72,851.7 982.72,858.14 940.9,848.28" fill="url(#pEnd)" />
<path d="M940.9 842.44 L979.72 851.6 Q982.72 852.3 985.72 851.5 L1095.49 820.62 L1053.67 810.76 Z" fill="#7d4e47" filter="url(#fTop)"/>
<ellipse cx="1054.58" cy="812.59" rx="3.8" ry="1.4" fill="#c8c8c4" stroke="#8a8a86" stroke-width="0.5"/>
<rect x="946.27" y="807.29" width="3.6" height="35.22" fill="url(#gMetal)"/>
<ellipse cx="948.07" cy="842.51" rx="3" ry="1.2" fill="#c8c8c4" stroke="#8a8a86" stroke-width="0.5"/>
<polygon points="1018.5,924.5 1040,930.2 1063,923 1041,918.5" fill="#b3afa6"/>
<rect x="1029.5" y="899.06" width="14.6" height="27.54" fill="#d0cdc6"/>
<rect x="1044.1" y="893.06" width="12.3" height="31.44" fill="#7b7874"/>
<path d="M1015.96 904.56 C1024.96 906.06 1030.96 913.06 1034.96 921.06" fill="none" stroke="#777470" stroke-width="4.2"/>
<path d="M1056.96 916.06 C1064.96 901.06 1074.96 891.06 1086.96 886.06" fill="none" stroke="#7a7773" stroke-width="4"/>
<rect x="1084.54" y="824.99" width="4.2" height="36.22" fill="url(#gMetal)"/>
<polygon points="1014.78,900.12 1127.55,868.44 1127.55,875.08 1014.78,906.76" fill="url(#gNose)" />
<polygon points="972.96,890.46 1014.78,900.32 1014.78,906.76 972.96,896.9" fill="url(#pEnd)" />
<path d="M972.96 891.06 L1011.78 900.22 Q1014.78 900.92 1017.78 900.12 L1127.55 869.24 L1085.73 859.38 Z" fill="#7d4e47" filter="url(#fTop)"/>
<ellipse cx="1086.64" cy="861.21" rx="3.8" ry="1.4" fill="#c8c8c4" stroke="#8a8a86" stroke-width="0.5"/>
<rect x="978.33" y="855.91" width="3.6" height="35.22" fill="url(#gMetal)"/>
<ellipse cx="980.13" cy="891.13" rx="3" ry="1.2" fill="#c8c8c4" stroke="#8a8a86" stroke-width="0.5"/>
<rect x="1011.97" y="904.92" width="3.8" height="35.22" fill="url(#gMetal)"/>
<ellipse cx="1013.87" cy="940.15" rx="3.2" ry="1.2" fill="#c8c8c4" stroke="#8a8a86" stroke-width="0.5"/>
<rect x="1118.47" y="875" width="3.8" height="35.22" fill="url(#gMetal)"/>
<ellipse cx="1120.37" cy="910.23" rx="3.2" ry="1.2" fill="#c8c8c4" stroke="#8a8a86" stroke-width="0.5"/>
<rect x="795.88" y="234" width="4.4" height="189.63" fill="url(#gMetal)"/>
<ellipse cx="798.08" cy="423.63" rx="3.8" ry="1.4" fill="#c8c8c4" stroke="#8a8a86" stroke-width="0.5"/>
<rect x="827.94" y="282.72" width="4.4" height="148.47" fill="url(#gMetal)"/>
<ellipse cx="830.14" cy="431.19" rx="3.8" ry="1.4" fill="#c8c8c4" stroke="#8a8a86" stroke-width="0.5"/>
<rect x="860" y="331.44" width="4.4" height="148.37" fill="url(#gMetal)"/>
<ellipse cx="862.2" cy="479.81" rx="3.8" ry="1.4" fill="#c8c8c4" stroke="#8a8a86" stroke-width="0.5"/>
<rect x="892.07" y="380.16" width="4.4" height="148.27" fill="url(#gMetal)"/>
<ellipse cx="894.27" cy="528.43" rx="3.8" ry="1.4" fill="#c8c8c4" stroke="#8a8a86" stroke-width="0.5"/>
<rect x="924.13" y="428.88" width="4.4" height="148.17" fill="url(#gMetal)"/>
<ellipse cx="926.33" cy="577.05" rx="3.8" ry="1.4" fill="#c8c8c4" stroke="#8a8a86" stroke-width="0.5"/>
<rect x="956.19" y="477.6" width="4.4" height="148.07" fill="url(#gMetal)"/>
<ellipse cx="958.39" cy="625.67" rx="3.8" ry="1.4" fill="#c8c8c4" stroke="#8a8a86" stroke-width="0.5"/>
<rect x="988.25" y="526.32" width="4.4" height="147.97" fill="url(#gMetal)"/>
<ellipse cx="990.45" cy="674.29" rx="3.8" ry="1.4" fill="#c8c8c4" stroke="#8a8a86" stroke-width="0.5"/>
<rect x="1020.31" y="575.04" width="4.4" height="147.87" fill="url(#gMetal)"/>
<ellipse cx="1022.51" cy="722.91" rx="3.8" ry="1.4" fill="#c8c8c4" stroke="#8a8a86" stroke-width="0.5"/>
<rect x="1052.38" y="623.76" width="4.4" height="147.77" fill="url(#gMetal)"/>
<ellipse cx="1054.58" cy="771.53" rx="3.8" ry="1.4" fill="#c8c8c4" stroke="#8a8a86" stroke-width="0.5"/>
<rect x="1084.44" y="672.48" width="4.4" height="147.67" fill="url(#gMetal)"/>
<ellipse cx="1086.64" cy="820.15" rx="3.8" ry="1.4" fill="#c8c8c4" stroke="#8a8a86" stroke-width="0.5"/>
<g transform="translate(792.6 216.2) rotate(-33.32)">
<rect x="-4.4" y="0" width="8.8" height="565" fill="url(#gRail)"/>
<rect x="-4.4" y="-1" width="8.8" height="6.5" fill="url(#gCap)"/>
<rect x="-4.4" y="559.5" width="8.8" height="6" fill="url(#gCap)"/>
<ellipse cx="0" cy="565.5" rx="4.4" ry="1.8" fill="#222"/>
<ellipse cx="0" cy="-1" rx="4.4" ry="1.6" fill="#d8d8d8"/>
</g>
</g>
<g id="spec">
<text class="spec" x="599.5" y="39.7" font-size="18.67" textLength="494.7" lengthAdjust="spacing">Высота от пола 1-го эт. до пола 2-го эт.: 2250-2475 мм</text>
<text class="spec" x="599.5" y="65.3" font-size="18.67" textLength="255.5" lengthAdjust="spacing">Количество ступеней: 10 шт</text>
<text class="spec" x="599.5" y="90.9" font-size="18.67" textLength="403.5" lengthAdjust="spacing">Возможное количество подъемов: 10 или 11</text>
<text class="spec" x="599.5" y="116.5" font-size="18.67" textLength="193.1" lengthAdjust="spacing">Высота шага: 225 мм</text>
<text class="spec" x="599.5" y="142.1" font-size="18.67" textLength="160.6" lengthAdjust="spacing">Проступь: 230 мм</text>
<text class="spec" x="599.5" y="167.7" font-size="18.67"><tspan textLength="159.5" lengthAdjust="spacing">Угол подъема: 44</tspan><tspan x="762" y="164.8" font-size="14">°</tspan></text>
<text class="spec" x="599.5" y="193.3" font-size="18.67" textLength="214.9" lengthAdjust="spacing">Ширина марша: 900 мм</text>
<text class="spec" x="599.5" y="218.9" font-size="18.67" textLength="106.3" lengthAdjust="spacing">Вес: ≈100кг</text>
</g>
<filter id="wmf" x="-5%" y="-30%" width="110%" height="160%" color-interpolation-filters="sRGB">
<feMorphology in="SourceAlpha" operator="dilate" radius="1.1" result="fat"/>
<feMorphology in="fat" operator="dilate" radius="1.1" result="outer"/>
<feComposite in="outer" in2="fat" operator="out" result="ring"/>
<feFlood flood-color="#858585" result="g"/>
<feComposite in="g" in2="ring" operator="in" result="ringc"/>
<feFlood flood-color="#ffffff" flood-opacity="0.32" result="w"/>
<feComposite in="w" in2="fat" operator="in" result="fillc"/>
<feMerge><feMergeNode in="fillc"/><feMergeNode in="ringc"/></feMerge>
</filter>
<text id="wm" filter="url(#wmf)" transform="translate(429.5 631.5) rotate(-35)" x="0" y="0" font-family='"Liberation Sans", sans-serif' font-weight="bold" font-size="59" textLength="426" lengthAdjust="spacingAndGlyphs" fill="#000">lestnicy-prosto.ru</text>
</svg>
</body></html>
